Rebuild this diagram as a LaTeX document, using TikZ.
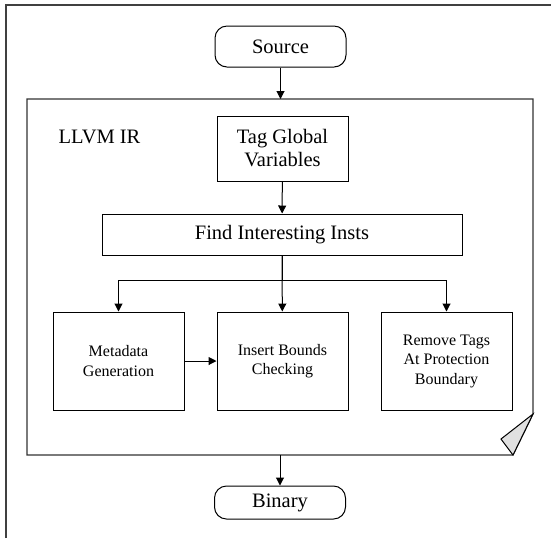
\documentclass[tikz,border=0pt]{standalone}
\usepackage{fontspec}
\setmainfont{Liberation Serif}
\newfontfamily\timesfont{Liberation Serif}
\usetikzlibrary{arrows.meta}

\begin{document}
\begin{tikzpicture}[x=0.5pt, y=-0.5pt, line width=0.5pt,
    box/.style={draw, align=center, inner sep=0pt, minimum width=65.5pt},
    term/.style={draw, rounded corners=6pt, inner sep=0pt, minimum width=65.5pt},
    big/.style={font=\timesfont\fontsize{10.25}{11.5}\selectfont},
    small/.style={font=\timesfont\fontsize{8}{9.75}\selectfont},
    arr/.style={-{Triangle[length=4pt, width=4pt]}}]
    \useasboundingbox (0,0) rectangle (551,538);

    % --- outer edge ---
    \draw[black!75, line width=0.6pt] (6,538) -- (6,5) -- (551,5);

    % --- LLVM IR sheet with folded corner ---
    \draw[black!80, line width=0.6pt] (27,99) -- (533,99) -- (533,414) -- (513,455) -- (27,455) -- cycle;
    \filldraw[fill=black!12, line width=0.5pt] (533,414) -- (501,439) -- (513,455) -- cycle;
    \coordinate (sheettop) at (280.5,99);
    \coordinate (sheetbot) at (280,455);
    \node[big] (ir) at (99.5,137) {LLVM IR};

    % --- nodes ---
    \node[term, big, minimum height=20.5pt] (src) at (280.5,46.5) {Source};
    \node[term, big, minimum height=16.5pt] (bin) at (280,502.5) {Binary};
    \node[box, big, minimum height=32.5pt] (tag) at (282.5,148.5) {Tag Global\\Variables};
    \node[box, big, minimum height=20.5pt, minimum width=180pt] (find) at (282,234.5) {Find Interesting Insts};
    \node[box, small, minimum height=49pt] (meta) at (118.5,361) {Metadata\\Generation};
    \node[box, small, minimum height=49pt] (ins) at (282.5,361) {Insert Bounds\\Checking};
    \node[box, small, minimum height=49pt] (rem) at (446.5,361) {Remove Tags\\At Protection\\Boundary};

    % --- connectors ---
    \draw[arr] (src) -- (sheettop);
    \draw[arr] (sheetbot) -- (bin);
    \draw[arr] (tag) -- (find);
    \draw[arr] (find) -- (ins);
    \foreach \dst in {meta, rem} {
        \draw[arr] (find.south) -- ++(0,25) -| (\dst.north);
    }
    \draw[arr] (meta) -- (ins);

\end{tikzpicture}
\end{document}
